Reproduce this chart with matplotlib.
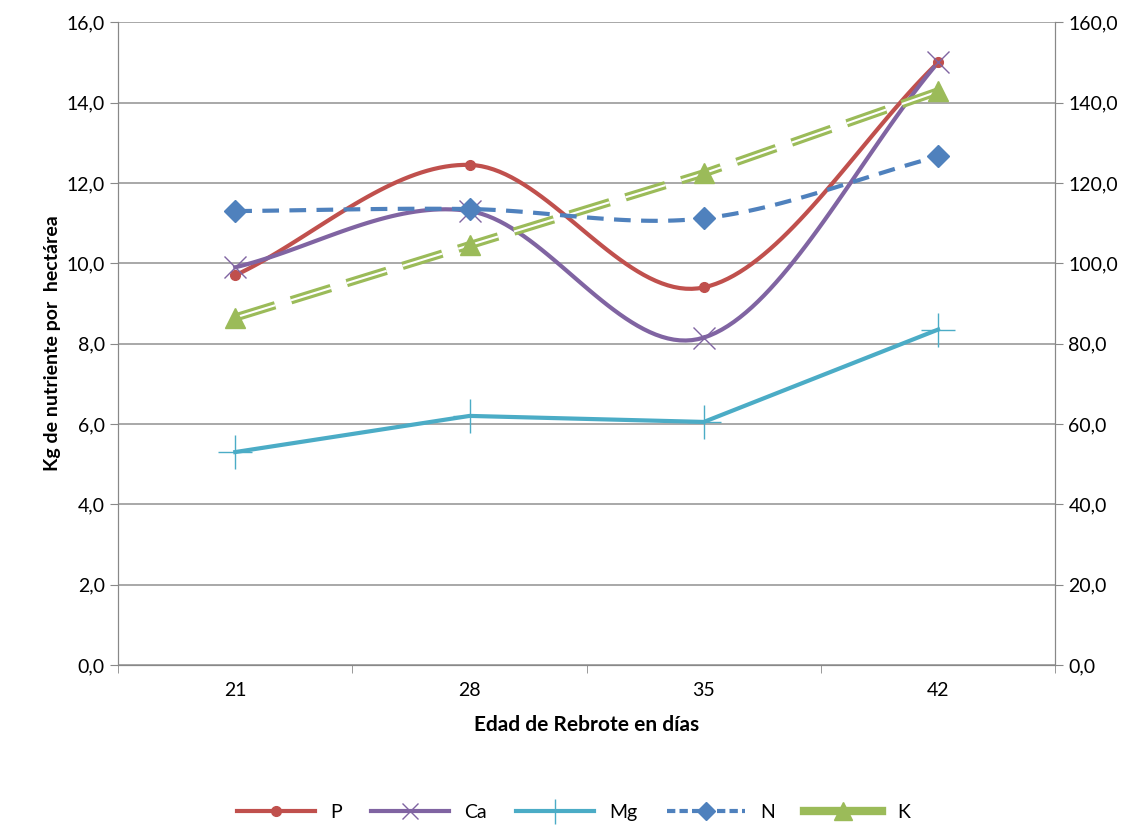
import numpy as np
import matplotlib.pyplot as plt
from matplotlib.lines import Line2D

plt.rcParams['font.family'] = ['Lato', 'DejaVu Sans']

dias = [21, 28, 35, 42]
p_vals = [9.7, 12.45, 9.4, 15.0]
ca_vals = [9.9, 11.3, 8.15, 15.0]
mg_vals = [5.3, 6.2, 6.05, 8.35]
n_vals = [113.0, 113.5, 111.2, 126.6]
k_vals = [86.5, 104.5, 122.4, 142.8]


def smooth(x, y, n=40):
    # Catmull-Rom style curve through the points, like Excel's smoothed line
    x = np.asarray(x, float)
    y = np.asarray(y, float)
    px = np.concatenate([[2 * x[0] - x[1]], x, [2 * x[-1] - x[-2]]])
    py = np.concatenate([[2 * y[0] - y[1]], y, [2 * y[-1] - y[-2]]])
    xs, ys = [], []
    t = np.linspace(0, 1, n)
    for i in range(1, len(px) - 2):
        for arr, out in ((px, xs), (py, ys)):
            p0, p1, p2, p3 = arr[i - 1:i + 3]
            out.extend(0.5 * ((2 * p1) + (-p0 + p2) * t
                              + (2 * p0 - 5 * p1 + 4 * p2 - p3) * t ** 2
                              + (-p0 + 3 * p1 - 3 * p2 + p3) * t ** 3))
    return np.array(xs), np.array(ys)


pos = np.arange(len(dias))
fig, ax = plt.subplots(figsize=(11.47, 8.26), dpi=100)
fig.subplots_adjust(left=0.103, right=0.92, top=0.973, bottom=0.195)
ax2 = ax.twinx()

red, purple, cyan, blue, green = '#C0504D', '#8064A2', '#4BACC6', '#4F81BD', '#9BBB59'

sx, sy = smooth(pos, p_vals)
ax.plot(sx, sy, color=red, lw=3, zorder=5)
ax.plot(pos, p_vals, 'o', color=red, ms=7, zorder=6)
sx, sy = smooth(pos, ca_vals)
ax.plot(sx, sy, color=purple, lw=3, zorder=5)
ax.plot(pos, ca_vals, 'x', color=purple, ms=16, mew=1.0, zorder=6)
ax.plot(pos, mg_vals, color=cyan, lw=3, zorder=5)
ax.plot(pos, mg_vals, '+', color=cyan, ms=24, mew=1.0, zorder=5)

sx, sy = smooth(pos, n_vals)
ax2.plot(sx, sy, color=blue, lw=3, ls=(0, (4, 2.5)), zorder=5)
ax2.plot(pos, n_vals, 'D', color=blue, ms=11, zorder=6)
ax2.plot(pos, k_vals, color=green, lw=6, ls=(0, (5, 2)), zorder=4)
ax2.plot(pos, k_vals, color='white', lw=1.5, ls=(0, (20, 8)), zorder=4.5)
ax2.plot(pos, k_vals, '^', color=green, ms=15, zorder=6)

for a in (ax, ax2):
    a.set_xlim(-0.5, 3.5)
    a.spines['top'].set_visible(False)
    for s in a.spines.values():
        s.set_color('#888888')
ax.set_ylim(0, 16)
ax2.set_ylim(0, 160)
ax.set_yticks(np.arange(0, 17, 2))
ax.set_yticklabels([f'{v:.1f}'.replace('.', ',') for v in np.arange(0, 17, 2)], fontsize=14)
ax2.set_yticks(np.arange(0, 161, 20))
ax2.set_yticklabels([f'{v:.1f}'.replace('.', ',') for v in np.arange(0, 161, 20)], fontsize=14)
ax.set_xticks(pos)
ax.set_xticklabels([str(d) for d in dias], fontsize=14)
ax.set_xticks(np.arange(-0.5, 4, 1), minor=True)
ax.tick_params(axis='x', which='major', length=0, pad=12)
ax.tick_params(axis='x', which='minor', length=6, color='#888888')
ax.tick_params(axis='y', length=6, color='#888888')
ax2.tick_params(axis='y', length=6, color='#888888')
ax.grid(axis='y', color='#999999', lw=1.2)
ax.set_axisbelow(True)
ax.set_xlabel('Edad de Rebrote en días', fontsize=15, fontweight='bold', labelpad=12)
ax.set_ylabel('Kg de nutriente por  hectárea', fontsize=14, fontweight='bold')

handles = [
    Line2D([], [], color=red, lw=3, marker='o', ms=7),
    Line2D([], [], color=purple, lw=3, marker='x', ms=12),
    Line2D([], [], color=cyan, lw=3, marker='+', ms=18),
    Line2D([], [], color=blue, lw=3, ls=(0, (2, 1)), marker='D', ms=9),
    Line2D([], [], color=green, lw=6, marker='^', ms=13),
]
fig.legend(handles, ['P', 'Ca', 'Mg', 'N', 'K'], loc='lower center', ncol=5,
           frameon=False, fontsize=14, bbox_to_anchor=(0.5, -0.015),
           handlelength=4, columnspacing=1.5)

fig.savefig('out.png')
